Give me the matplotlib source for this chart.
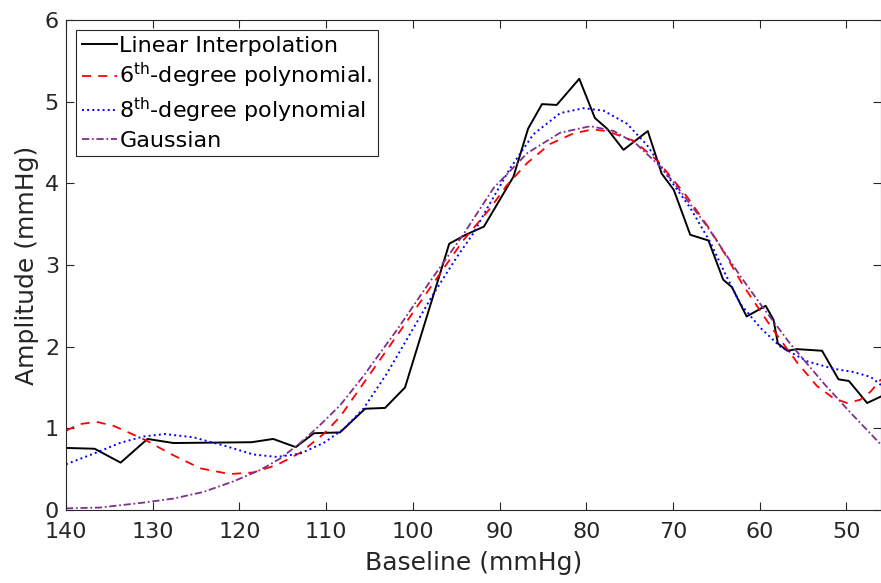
import matplotlib
matplotlib.use('Agg')
import matplotlib.pyplot as plt

# measured baseline / amplitude (linear interpolation between samples)
base_lin = [140, 136.7, 133.7, 130.6, 127.6, 118.6, 116.1, 113.5, 111.4, 108.4, 105.5, 103.2,
            100.9, 95.8, 93.9, 91.8, 88.4, 86.7, 85.1, 83.4, 80.8, 79.0, 77.6, 75.7, 72.9,
            71.3, 69.9, 68.0, 65.9, 64.2, 63.2, 61.5, 59.3, 58.4, 57.9, 56.8, 55.7, 52.8,
            50.9, 49.7, 47.6, 46.0]
amp_lin = [0.76, 0.75, 0.58, 0.87, 0.82, 0.83, 0.87, 0.77, 0.94, 0.95, 1.24, 1.25,
           1.50, 3.26, 3.37, 3.47, 4.08, 4.67, 4.97, 4.96, 5.28, 4.80, 4.67, 4.41, 4.64,
           4.12, 3.92, 3.37, 3.30, 2.82, 2.73, 2.37, 2.50, 2.33, 2.04, 1.95, 1.97, 1.95,
           1.60, 1.58, 1.31, 1.39]

# 6th degree polynomial fit
base_p6 = [140, 138.5, 136.5, 134.5, 133, 130.7, 128, 124.5, 121.1, 118.4, 115.7, 113, 110.3,
           108.4, 105.7, 101.8, 98, 94.2, 91.1, 89.2, 86.8, 84.2, 81.5, 79.3, 77.6, 74.5,
           71.8, 68.4, 65.7, 63.8, 61.9, 60.0, 58.4, 55.7, 53.4, 51.5, 49.9, 48.4, 47.2, 46.0]
amp_p6 = [0.97, 1.05, 1.08, 1.03, 0.96, 0.85, 0.69, 0.51, 0.44, 0.46, 0.55, 0.70, 0.93,
          1.14, 1.55, 2.14, 2.72, 3.30, 3.69, 3.97, 4.25, 4.48, 4.61, 4.66, 4.64, 4.52,
          4.28, 3.84, 3.43, 3.10, 2.75, 2.45, 2.20, 1.81, 1.52, 1.37, 1.31, 1.35, 1.45, 1.60]

# 8th degree polynomial fit
base_p8 = [140, 136.8, 133.8, 131.1, 128.6, 125.3, 121.5, 118.4, 115.7, 113, 110.3, 108.0,
           105.7, 103, 100.3, 97.6, 94.9, 93.0, 91.5, 88.8, 86.1, 83.0, 80.3, 78.0, 75.3,
           73.0, 70.7, 68.0, 65.7, 64.0, 62.2, 59.9, 57.6, 54.5, 51.5, 49.2, 47.2, 46.0]
amp_p8 = [0.56, 0.69, 0.82, 0.90, 0.93, 0.89, 0.78, 0.68, 0.65, 0.69, 0.82, 0.99,
          1.24, 1.67, 2.16, 2.65, 3.10, 3.39, 3.68, 4.18, 4.60, 4.86, 4.92, 4.89, 4.73,
          4.47, 4.10, 3.70, 3.28, 2.90, 2.52, 2.23, 2.00, 1.82, 1.73, 1.69, 1.63, 1.53]

# Gaussian fit
base_g = [140, 136.1, 131.1, 127.6, 124.2, 120.7, 117.6, 115.3, 113, 110.7, 108.4,
          105.7, 101.8, 98.0, 94.2, 90.7, 86.8, 83.0, 79.5, 76.8, 74.2, 71.5, 69.9,
          66.1, 62.2, 59.9, 56.5, 52.6, 49.5, 46.0]
amp_g = [0.02, 0.03, 0.09, 0.14, 0.22, 0.35, 0.49, 0.63, 0.82, 1.04, 1.28,
         1.64, 2.21, 2.80, 3.37, 3.94, 4.37, 4.62, 4.70, 4.64, 4.48, 4.21, 4.01,
         3.48, 2.86, 2.52, 2.04, 1.55, 1.19, 0.80]

xticks = [140, 130, 120, 110, 100, 90, 80, 70, 60, 50]
yticks = [0, 1, 2, 3, 4, 5, 6]

plt.rcParams['font.family'] = ['DejaVu Sans']
plt.rcParams['mathtext.fontset'] = 'dejavusans'

fig = plt.figure(figsize=(8.81, 5.83), dpi=100)
ax = fig.add_axes([66/881, 73/583, 815/881, 490/583])

ax.plot(base_lin, amp_lin, '-', color='black', lw=1.4, label='Linear Interpolation')
ax.plot(base_p6, amp_p6, '--', color='#ff0000', lw=1.3, dashes=(5, 4),
        label='6$^{\\mathrm{th}}$-degree polynomial.')
ax.plot(base_p8, amp_p8, ':', color='#0000ff', lw=1.4, label='8$^{\\mathrm{th}}$-degree polynomial')
ax.plot(base_g, amp_g, '-.', color='#7e2f8e', lw=1.3, dashes=(4, 1.5, 1, 1.5), label='Gaussian')

ax.set_xlim(140, 46)
ax.set_ylim(0, 6)
ax.set_xticks(xticks)
ax.set_yticks(yticks)
ax.tick_params(direction='in', length=6, width=0.8, top=True, right=True,
               labelsize=16, colors='#262626')
ax.tick_params(axis='x', pad=9)
ax.tick_params(axis='y', pad=5)
for s in ax.spines.values():
    s.set_color('#262626')
    s.set_linewidth(0.8)

ax.set_xlabel('Baseline (mmHg)', fontsize=18, color='#262626', labelpad=6)
ax.set_ylabel('Amplitude (mmHg)', fontsize=18, color='#262626', labelpad=4)

leg = ax.legend(loc='upper left', fontsize=16, fancybox=False, framealpha=1,
                edgecolor='#262626', handlelength=1.6, handletextpad=0.1,
                labelspacing=0.25, borderpad=0.25, borderaxespad=0.45)
leg.get_frame().set_linewidth(0.8)

fig.savefig('out.png', dpi=100)
